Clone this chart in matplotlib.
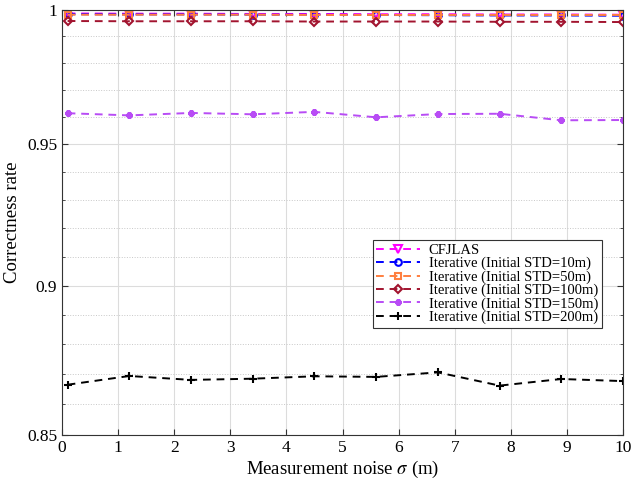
import numpy as np
import matplotlib
matplotlib.use("Agg")
import matplotlib.pyplot as plt
from matplotlib.ticker import FixedLocator, NullFormatter, FixedFormatter

plt.rcParams['font.family'] = ['Liberation Serif', 'DejaVu Serif']
plt.rcParams['mathtext.fontset'] = 'stix'

noise = [0.1, 1.2, 2.3, 3.4, 4.5, 5.6, 6.7, 7.8, 8.9, 10.0]
cfjlas = [0.9987, 0.9986, 0.9986, 0.9985, 0.9985, 0.9984, 0.9984, 0.9983, 0.9983, 0.9982]
iter10 = [0.9984, 0.9983, 0.9983, 0.9982, 0.9982, 0.9981, 0.9980, 0.9979, 0.9979, 0.9978]
iter50 = [0.9982, 0.9982, 0.9982, 0.9982, 0.9981, 0.9981, 0.9981, 0.9981, 0.9981, 0.9981]
iter100 = [0.9958, 0.9957, 0.9957, 0.9957, 0.9956, 0.9956, 0.9956, 0.9955, 0.9955, 0.9954]
iter150 = [0.9613, 0.9605, 0.9614, 0.9609, 0.9618, 0.9598, 0.9610, 0.9611, 0.9587, 0.9588]
iter200 = [0.8665, 0.8694, 0.8681, 0.8685, 0.8693, 0.8691, 0.8706, 0.8662, 0.8684, 0.8677]

labels = ['CFJLAS', 'Iterative (Initial STD=10m)', 'Iterative (Initial STD=50m)',
          'Iterative (Initial STD=100m)', 'Iterative (Initial STD=150m)',
          'Iterative (Initial STD=200m)']
yticks = [0.85, 0.9, 0.95, 1.0]
ytick_labels = ['0.85', '0.9', '0.95', '1']
xticks = list(range(0, 11))

fig = plt.figure(figsize=(6.32, 4.79), dpi=100)
ax = fig.add_axes([62/632, 1-435/479, 561/632, 425/479])

asterisk = (6, 2, 0)
series = [
    (cfjlas, '#FF00FF', 'v', 'none', 5.5),
    (iter10, '#0000FF', 'o', 'none', 4.8),
    (iter50, '#FF7F3F', 's', 'none', 4.3),
    (iter100, '#A2142F', 'D', 'none', 4.0),
    (iter150, '#B84CF5', asterisk, '#B84CF5', 4.5),
    (iter200, '#000000', '+', 'none', 5.5),
]
for (vals, col, mk, mfc, ms), lab in zip(series, labels):
    mew = 2.2 if mk == asterisk else 1.5
    ax.plot(noise, vals, linestyle=(0, (4, 3)), color=col, marker=mk, mfc=mfc,
            mec=col, ms=ms, mew=mew, lw=1.4, label=lab)

ax.set_yscale('log')
ax.set_xlim(0, 10)
ax.set_ylim(0.85, 1.0)
ax.yaxis.set_major_locator(FixedLocator(yticks))
ax.yaxis.set_major_formatter(FixedFormatter(ytick_labels))
minors = [round(0.85 + 0.01*i, 2) for i in range(1, 15) if round(0.85 + 0.01*i, 2) not in (0.9, 0.95)]
ax.yaxis.set_minor_locator(FixedLocator(minors))
ax.yaxis.set_minor_formatter(NullFormatter())
ax.set_xticks(xticks)

ax.grid(True, which='major', color='#dcdcdc', lw=0.8, ls='-')
ax.grid(True, which='minor', axis='y', color='#c8c8c8', lw=0.7, ls=':')
ax.set_axisbelow(True)
ax.tick_params(direction='in', which='both', labelsize=12.5, top=True, right=True,
               color='#333333', length=4)
ax.tick_params(which='minor', length=2.5)
for s in ax.spines.values():
    s.set_color('#333333')
    s.set_linewidth(0.8)

ax.set_xlabel('Measurement noise $\\sigma$ (m)', fontsize=13.5, labelpad=2)
ax.set_ylabel('Correctness rate', fontsize=13.5, labelpad=4)

leg = ax.legend(loc='lower right', bbox_to_anchor=(0.962, 0.252), fontsize=10.5,
                frameon=True, fancybox=False, edgecolor='#333333', framealpha=1,
                handlelength=3.0, borderpad=0.25, labelspacing=0.0, handletextpad=0.6,
                borderaxespad=0)
leg.get_frame().set_linewidth(0.8)

fig.savefig('out.png', dpi=100)
